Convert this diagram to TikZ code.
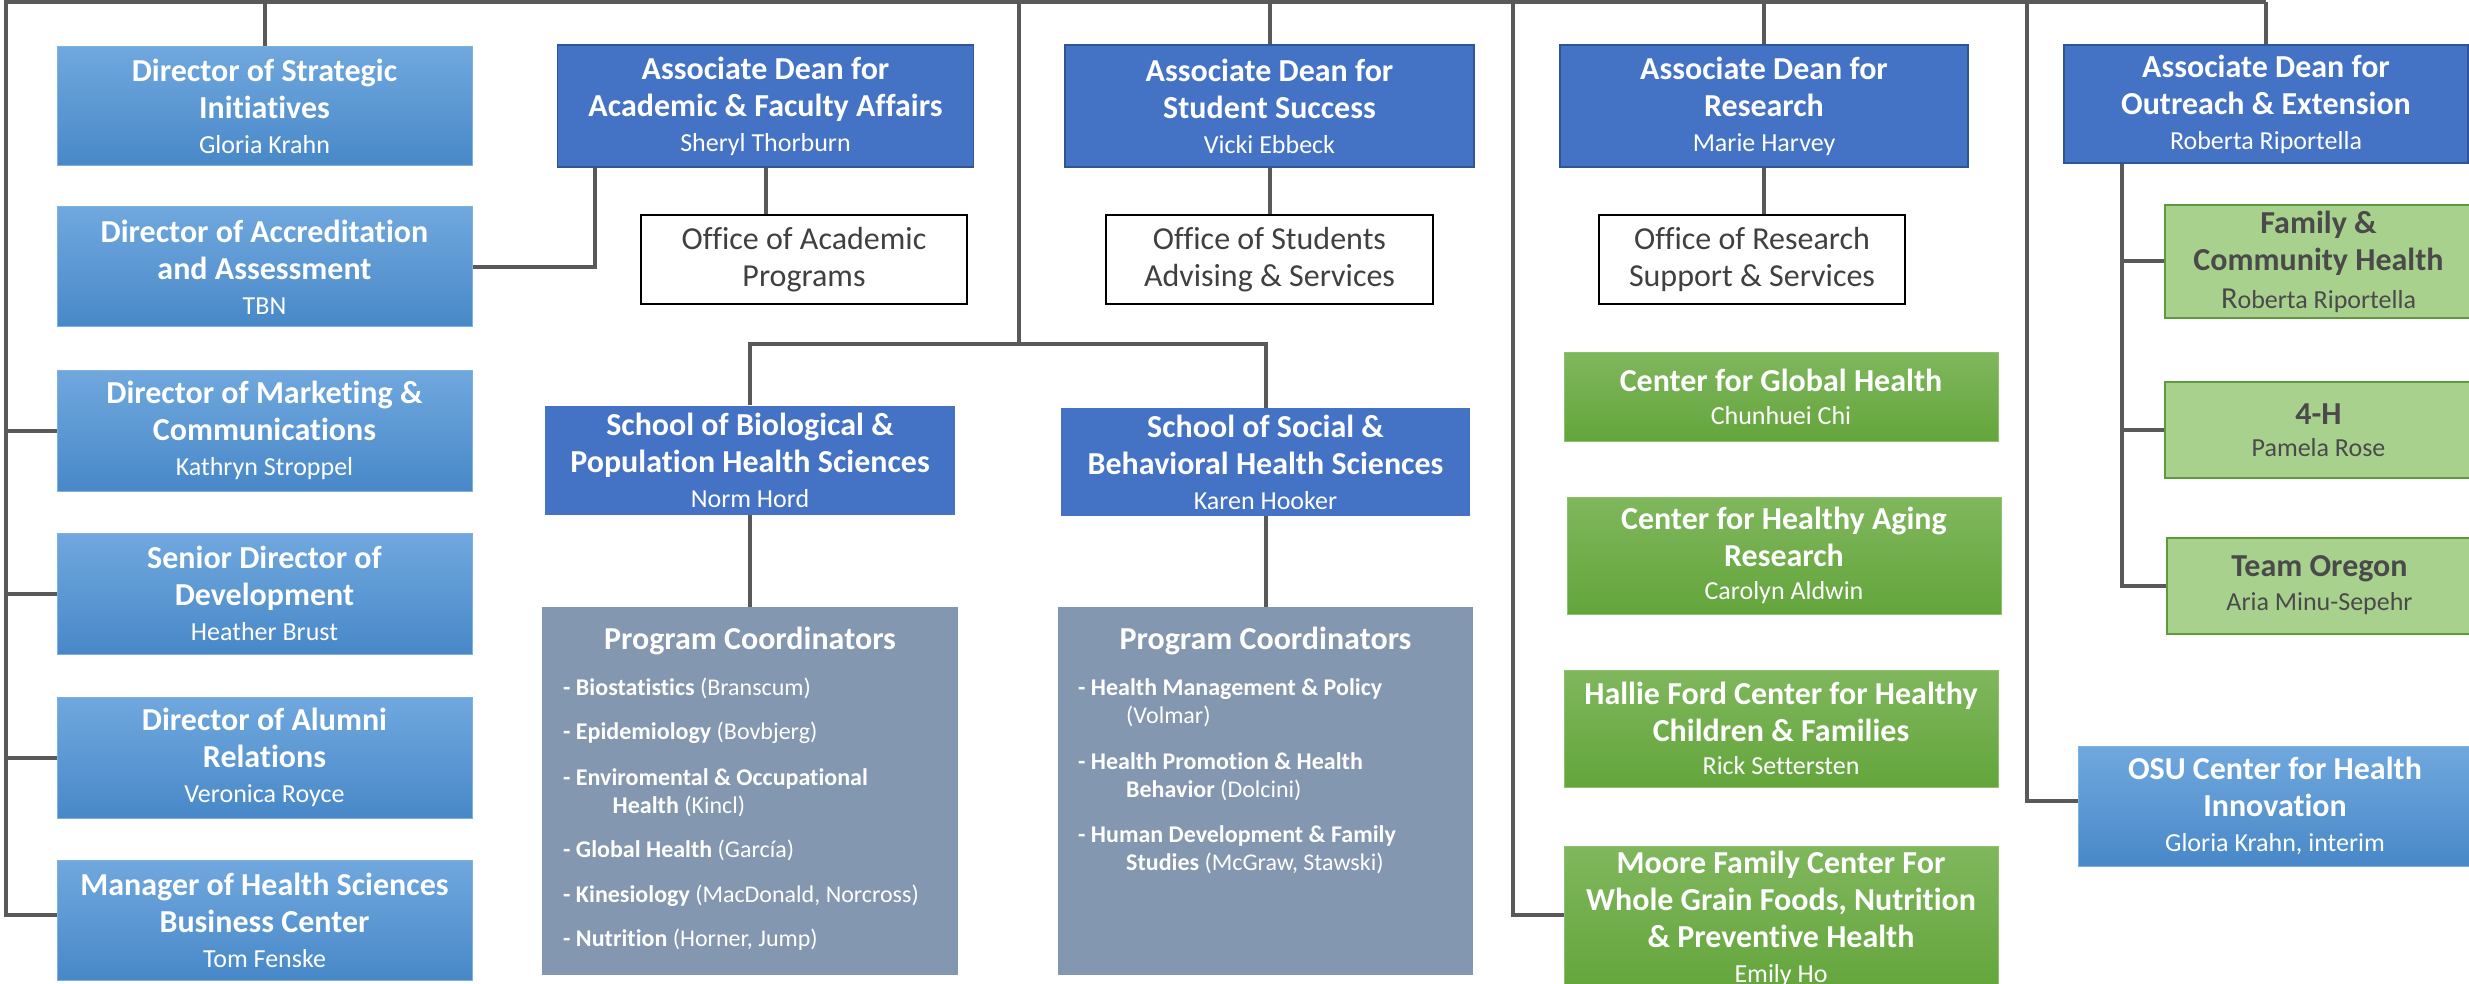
\documentclass[tikz,border=0pt]{standalone}
\usepackage{fontspec}
\setmainfont{Carlito}[Ligatures={TeX,NoCommon}]
\usetikzlibrary{calc}
\definecolor{linegray}{HTML}{595959}
\definecolor{dirtop}{HTML}{70A8DE}
\definecolor{dirbot}{HTML}{4888C8}
\definecolor{dirborder}{HTML}{7EB1E2}
\definecolor{adblue}{HTML}{4472C4}
\definecolor{adborder}{HTML}{2F5597}
\definecolor{officetext}{HTML}{404040}
\definecolor{pcgray}{HTML}{8497B0}
\definecolor{grtop}{HTML}{80B75D}
\definecolor{grbot}{HTML}{63A53B}
\definecolor{grborder}{HTML}{8CC26C}
\definecolor{ltgreen}{HTML}{A9D18E}
\definecolor{ltborder}{HTML}{5E9A3A}
\definecolor{darktext}{HTML}{4A4A4A}
\newcommand\nm[1]{{\mdseries\fontsize{26}{30}\selectfont #1}}
\tikzset{
  conn/.style={draw=linegray, line width=4pt},
  box/.style={rectangle, align=center, inner sep=0pt, text=white,
    font=\fontsize{32}{37}\selectfont\bfseries},
  dirbox/.style={box, top color=dirtop, bottom color=dirbot, draw=dirborder, line width=1pt},
  adbox/.style={box, fill=adblue, draw=adborder, line width=1.5pt},
  officebox/.style={box, fill=white, draw=black, line width=2pt, text=officetext,
    font=\fontsize{32}{37.5}\selectfont},
  schoolbox/.style={box, fill=adblue},
  pcbox/.style={rectangle, fill=pcgray, inner sep=0pt},
  pctitle/.style={anchor=base, text=white, inner sep=0pt, font=\fontsize{32}{36}\selectfont\bfseries},
  pcitem/.style={anchor=base west, text=white, inner sep=0pt, font=\fontsize{24}{28}\selectfont},
  centerbox/.style={box, top color=grtop, bottom color=grbot, draw=grborder, line width=1pt},
  outbox/.style={box, fill=ltgreen, draw=ltborder, line width=2pt, text=darktext},
}
\begin{document}
\begin{tikzpicture}[x=1pt, y=-1pt]
\useasboundingbox (0,0) rectangle (2469,984);
\clip (0,0) rectangle (2469,984);

% left column directors
\node[dirbox, minimum width=415, minimum height=119] (dir1) at (264.5,106.5) {Director of Strategic\\Initiatives\\[-2pt]\nm{Gloria Krahn}};
\node[dirbox, minimum width=415, minimum height=120] (dir2) at (264.5,267) {Director of Accreditation\\and Assessment\\[-2pt]\nm{TBN}};
\node[dirbox, minimum width=415, minimum height=121] (dir3) at (264.5,430.5) {Director of Marketing \&\\Communications\\[-2pt]\nm{Kathryn Stroppel}};
\node[dirbox, minimum width=415, minimum height=121] (dir4) at (264.5,593.5) {Senior Director of\\Development\\[-2pt]\nm{Heather Brust}};
\node[dirbox, minimum width=415, minimum height=121] (dir5) at (264.5,757.5) {Director of Alumni\\Relations\\[-2pt]\nm{Veronica Royce}};
\node[dirbox, minimum width=415, minimum height=120] (dir6) at (264.5,920) {Manager of Health Sciences\\Business Center\\[-2pt]\nm{Tom Fenske}};

% associate deans
\node[adbox, minimum width=416, minimum height=122] (ada) at (765.5,106) {Associate Dean for\\Academic \& Faculty Affairs\\[-2pt]\nm{Sheryl Thorburn}};
\node[adbox, minimum width=409, minimum height=122] (ads) at (1269.5,106) {Associate Dean for\\Student Success\\[-2pt]\nm{Vicki Ebbeck}};
\node[adbox, minimum width=408, minimum height=122] (adr) at (1764,106) {Associate Dean for\\Research\\[-2pt]\nm{Marie Harvey}};
\node[adbox, minimum width=404, minimum height=118] (ado) at (2266,104) {Associate Dean for\\Outreach \& Extension\\[-2pt]\nm{Roberta Riportella}};

% offices
\node[officebox, minimum width=326, minimum height=89] (oap) at (804,259.5) {Office of Academic\\Programs};
\node[officebox, minimum width=327, minimum height=89] (osa) at (1269.5,259.5) {Office of Students\\Advising \& Services};
\node[officebox, minimum width=306, minimum height=89] (ora) at (1752,259.5) {Office of Research\\Support \& Services};

% schools
\node[schoolbox, minimum width=410, minimum height=109] (sbp) at (750,460) {School of Biological \&\\Population Health Sciences\\[-2pt]\nm{Norm Hord}};
\node[schoolbox, minimum width=409, minimum height=108] (ssb) at (1265.5,462) {School of Social \&\\Behavioral Health Sciences\\[-2pt]\nm{Karen Hooker}};

% program coordinators
\node[pcbox, minimum width=416, minimum height=368] (pc1) at (750,791) {};
\node[pcbox, minimum width=415, minimum height=368] (pc2) at (1265.5,791) {};
\node[pctitle] (pc1t) at (750,649) {Program Coordinators};
\node[pctitle] (pc2t) at (1265.5,649) {Program Coordinators};
\node[pcitem] (b1) at (563,695) {\textbf{- Biostatistics} (Branscum)};
\node[pcitem] (b2) at (563,739) {\textbf{- Epidemiology} (Bovbjerg)};
\node[pcitem] (b3) at (563,785.5) {\textbf{- Enviromental \& Occupational}};
\node[pcitem] (b3b) at (612.5,813.5) {\textbf{Health} (Kincl)};
\node[pcitem] (b4) at (563,857.5) {\textbf{- Global Health} (García)};
\node[pcitem] (b5) at (563,902.5) {\textbf{- Kinesiology} (MacDonald, Norcross)};
\node[pcitem] (b6) at (563,946.5) {\textbf{- Nutrition} (Horner, Jump)};
\node[pcitem] (s1) at (1078,695) {\textbf{- Health Management \& Policy}};
\node[pcitem] (s1b) at (1126,723) {(Volmar)};
\node[pcitem] (s2) at (1078,769) {\textbf{- Health Promotion \& Health}};
\node[pcitem] (s2b) at (1126,797) {\textbf{Behavior} (Dolcini)};
\node[pcitem] (s3) at (1078,842) {\textbf{- Human Development \& Family}};
\node[pcitem] (s3b) at (1126,870) {\textbf{Studies} (McGraw, Stawski)};

% research centers
\node[centerbox, minimum width=434, minimum height=88] (cgh) at (1781,397) {Center for Global Health\\[-4pt]\nm{Chunhuei Chi}};
\node[centerbox, minimum width=434, minimum height=117] (cha) at (1784,555.5) {Center for Healthy Aging\\Research\\[-4pt]\nm{Carolyn Aldwin}};
\node[centerbox, minimum width=434, minimum height=117] (hfc) at (1781,728.5) {Hallie Ford Center for Healthy\\Children \& Families\\[-4pt]\nm{Rick Settersten}};
\node[centerbox, minimum width=434, minimum height=146] (mfc) at (1781,919) {Moore Family Center For\\Whole Grain Foods, Nutrition\\\& Preventive Health\\[-2pt]\nm{Emily Ho}};

% outreach units
\node[outbox, minimum width=308, minimum height=113] (fch) at (2318.5,261.5) {Family \&\\Community Health\\[1pt]\nm{{\fontsize{30.5}{30}\selectfont R}oberta Riportella}};
\node[outbox, minimum width=308, minimum height=96] (fh) at (2318.5,430) {4-H\\[-5pt]\nm{Pamela Rose}};
\node[outbox, minimum width=306, minimum height=96] (tor) at (2319.5,585.5) {Team Oregon\\[-3pt]\nm{Aria Minu-Sepehr}};
\node[dirbox, minimum width=394, minimum height=120] (osu) at (2275,806) {OSU Center for Health\\Innovation\\[-2pt]\nm{Gloria Krahn, interim}};

% connectors
\coordinate (tl) at (6,2);
\coordinate (tr) at (2266,2);
\draw[conn] (tr) -- (tl) |- ($(dir6.west)+(0,-5)$);
\draw[conn] (dir3.west) -- (dir3.west -| tl);
\draw[conn] (dir4.west) -- (dir4.west -| tl);
\draw[conn] (dir5.west) -- (dir5.west -| tl);
\draw[conn] (dir1.north) -- (dir1.north |- tl);
\draw[conn] (dir2.east) -| ($(ada.south west)+(38.5,0)$);
\draw[conn] (ada.south) -- (ada.south |- oap.north);

\coordinate (sj) at (1019,344);
\draw[conn] (sj |- tl) -- (sj);
\draw[conn] (sbp.north) |- (sj) -| (ssb.north);
\draw[conn] (sbp.south) -- (pc1.north);
\draw[conn] (ssb.south) -- (pc2.north);

\draw[conn] (ads.north) -- (ads.north |- tl);
\draw[conn] (ads.south) -- (osa.north);
\draw[conn] (adr.north) -- (adr.north |- tl);
\draw[conn] (adr.south) -- (adr.south |- ora.north);

\coordinate (rb) at (1513,2);
\draw[conn] (rb) |- ($(mfc.west)+(0,-4)$);
\draw[conn] ($(cgh.west)+(0,-3)$) -- ($(cgh.west)+(0,-3)$ -| rb);
\draw[conn] ($(cha.west)+(0,-5)$) -- ($(cha.west)+(0,-5)$ -| rb);
\draw[conn] ($(hfc.west)+(0,-8)$) -- ($(hfc.west)+(0,-8)$ -| rb);

\coordinate (ob) at (2027,2);
\draw[conn] (ob) |- ($(osu.west)+(0,-5)$);

\draw[conn] (ado.north) -- (ado.north |- tl);
\coordinate (xb) at ($(ado.south west)+(59,0)$);
\draw[conn] (xb) |- (tor.west);
\draw[conn] (fch.west) -- (fch.west -| xb);
\draw[conn] (fh.west) -- (fh.west -| xb);
\end{tikzpicture}
\end{document}
